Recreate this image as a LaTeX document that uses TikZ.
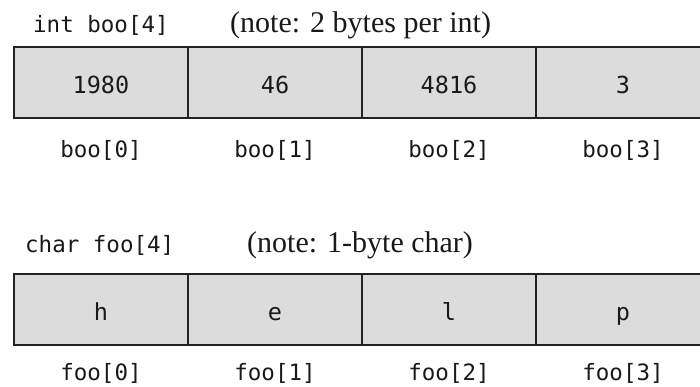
\documentclass[tikz,border=0pt]{standalone}
\usepackage{fontspec}
\usepackage{tikz}
\usetikzlibrary{positioning}
\setmainfont{Liberation Serif}
\newfontfamily\codefont{DejaVu Sans Mono}
\definecolor{cellfill}{RGB}{220,220,220}
\definecolor{cellrule}{RGB}{35,35,35}
\tikzset{
  cell/.style={rectangle,draw=cellrule,line width=2.8pt,fill=cellfill,outer sep=0pt,inner sep=0pt,minimum width=174pt,minimum height=71pt,text height=22pt,text depth=0pt,font=\codefont\fontsize{23.5}{26}\selectfont,text=black!90},
  idx/.style={inner sep=0pt,text height=16pt,text depth=0pt,font=\codefont\fontsize{22.5}{26}\selectfont,text=black!90},
  decl/.style={inner sep=0pt,anchor=base west,font=\codefont\fontsize{22.5}{26}\selectfont,text=black!90},
  note/.style={inner sep=0pt,anchor=base west,font=\fontsize{30}{34}\selectfont,text=black!90}
}
\begin{document}
\begin{tikzpicture}[x=1pt,y=1pt,node distance=0pt]
  \clip (0,0) rectangle (700,387);
  % int array
  \node[decl] (intdecl) at (33,354) {int boo[4]};
  \node[note] (intnote) at (230,354) {(note: 2 bytes per int)};
  \node[cell] (b0) at (101,304.5) {1980};
  \node[cell,right=of b0] (b1) {46};
  \node[cell,right=of b1] (b2) {4816};
  \node[cell,right=of b2] (b3) {3};
  \node[idx,below=23pt of b0] (i0) {boo[0]};
  \node[idx,below=23pt of b1] (i1) {boo[1]};
  \node[idx,below=23pt of b2] (i2) {boo[2]};
  \node[idx,below=23pt of b3] (i3) {boo[3]};
  % char array
  \node[decl] (chardecl) at (25,134) {char foo[4]};
  \node[note] (charnote) at (247,134) {(note: 1-byte char)};
  \node[cell] (f0) at (101,77.5) {h};
  \node[cell,right=of f0] (f1) {e};
  \node[cell,right=of f1] (f2) {l};
  \node[cell,right=of f2] (f3) {p};
  \node[idx,below=19pt of f0] (j0) {foo[0]};
  \node[idx,below=19pt of f1] (j1) {foo[1]};
  \node[idx,below=19pt of f2] (j2) {foo[2]};
  \node[idx,below=19pt of f3] (j3) {foo[3]};
\end{tikzpicture}
\end{document}
